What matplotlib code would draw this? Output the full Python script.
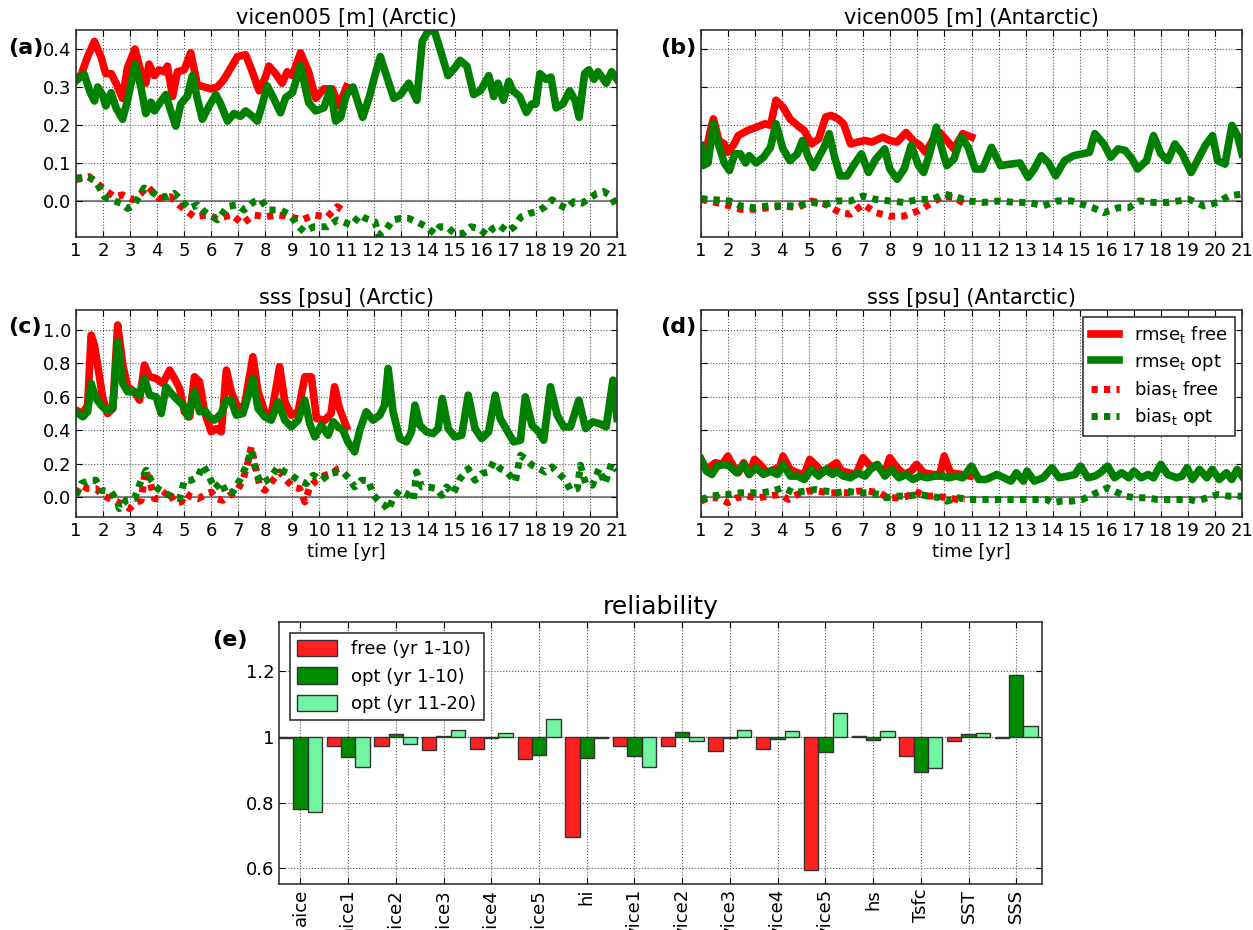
import numpy as np
import matplotlib
matplotlib.use("Agg")
import matplotlib.pyplot as plt

# ---------------------------------------------------------------------------
# time series: (year, value) pairs
# ---------------------------------------------------------------------------
# (a) vicen005 [m] Arctic
a_rmse_free = [(1.0, .325), (1.18, .33), (1.43, .38), (1.68, .42), (1.92, .38), (2.1, .335), (2.3, .335),
               (2.48, .31), (2.72, .27), (2.9, .35), (3.18, .40), (3.4, .34), (3.58, .31), (3.7, .36),
               (3.9, .33), (4.07, .345), (4.26, .34), (4.38, .355), (4.57, .275), (4.75, .34), (5.0, .345),
               (5.24, .39), (5.49, .305), (5.74, .30), (5.98, .295), (6.23, .30), (6.47, .32), (6.72, .35),
               (6.97, .38), (7.27, .385), (7.52, .34), (7.77, .29), (8.0, .325), (8.13, .355), (8.38, .335),
               (8.62, .31), (8.81, .34), (9.0, .33), (9.3, .39), (9.6, .34), (9.86, .27), (10.16, .295),
               (10.47, .295), (10.72, .25), (11.0, .30)]
a_rmse_opt = [(1.0, .316), (1.3, .334), (1.5, .29), (1.68, .263), (1.8, .30), (1.98, .28), (2.1, .25),
              (2.3, .285), (2.48, .245), (2.72, .215), (2.9, .263), (3.18, .36), (3.4, .30), (3.58, .23),
              (3.77, .26), (3.9, .237), (4.07, .255), (4.32, .28), (4.5, .237), (4.69, .197), (4.87, .255),
              (5.12, .276), (5.3, .33), (5.49, .268), (5.67, .215), (5.92, .25), (6.17, .28), (6.35, .255),
              (6.6, .21), (6.84, .23), (7.09, .223), (7.27, .237), (7.52, .223), (7.7, .21), (7.89, .255),
              (8.07, .303), (8.32, .268), (8.56, .232), (8.75, .272), (9.0, .285), (9.3, .356), (9.6, .259),
              (9.86, .237), (10.16, .245), (10.4, .294), (10.6, .21), (10.78, .22), (11.0, .28), (11.24, .30),
              (11.6, .22), (11.85, .275), (12.05, .33), (12.25, .38), (12.5, .325), (12.75, .27), (13.0, .28),
              (13.3, .31), (13.6, .265), (13.8, .42), (14.0, .445), (14.24, .45), (14.5, .39), (14.75, .33),
              (15.0, .35), (15.2, .37), (15.45, .355), (15.7, .28), (15.95, .29), (16.26, .33), (16.44, .275),
              (16.6, .31), (16.8, .265), (17.0, .315), (17.15, .29), (17.4, .275), (17.65, .233),
              (17.85, .255), (18.0, .255), (18.15, .335), (18.38, .32), (18.56, .326), (18.75, .245),
              (19.0, .255), (19.25, .29), (19.45, .265), (19.6, .22), (19.8, .335), (19.96, .345),
              (20.15, .32), (20.3, .34), (20.6, .31), (20.8, .34), (21.0, .32)]
a_bias_free = [(1.0, .056), (1.49, .064), (1.98, .034), (2.41, .011), (2.72, .016), (3.09, .003), (3.4, .02),
               (3.64, .038), (4.07, .007), (4.5, .011), (4.81, -.011), (5.37, -.042), (5.86, -.037),
               (6.23, -.046), (6.78, -.037), (7.15, -.06), (7.58, -.037), (8.01, -.042), (8.44, -.037),
               (8.93, -.042), (9.36, -.05), (9.79, -.037), (10.29, -.042), (10.66, -.015), (10.85, -.024)]
a_bias_opt = [(1.0, .06), (1.43, .064), (1.74, .051), (2.05, .011), (2.29, .003), (2.66, -.006), (2.91, -.02),
              (3.15, -.01), (3.52, .034), (3.77, .025), (4.07, .011), (4.38, .011), (4.63, .02), (4.87, .003),
              (5.18, -.02), (5.49, -.01), (5.74, -.028), (6.23, -.05), (6.6, -.015), (6.97, -.01),
              (7.21, -.024), (7.58, -.002), (7.83, .003), (8.13, -.024), (8.56, -.024), (8.93, -.037),
              (9.18, -.064), (9.43, -.081), (9.79, -.068), (10.29, -.068), (10.66, -.05), (10.86, -.055),
              (11.2, -.064), (11.5, -.037), (11.7, -.046), (12.05, -.055), (12.2, -.09), (12.5, -.073),
              (12.7, -.05), (13.0, -.046), (13.3, -.046), (13.6, -.055), (13.95, -.068), (14.25, -.086),
              (14.45, -.068), (14.7, -.068), (15.0, -.086), (15.3, -.086), (15.6, -.068), (15.9, -.073),
              (16.2, -.09), (16.4, -.073), (16.65, -.064), (16.95, -.081), (17.2, -.068), (17.45, -.042),
              (17.75, -.033), (18.05, -.028), (18.35, -.015), (18.6, .003), (18.85, -.01), (19.15, -.02),
              (19.4, -.002), (19.7, -.006), (20.0, .007), (20.25, .02), (20.5, .025), (20.75, .015),
              (21.0, -.015)]

# (b) vicen005 [m] Antarctic
b_rmse_free = [(1.0, .137), (1.13, .11), (1.33, .18), (1.46, .216), (1.66, .159), (1.86, .15), (1.99, .128),
               (2.19, .146), (2.38, .172), (2.71, .185), (3.04, .194), (3.37, .203), (3.57, .199), (3.77, .265),
               (4.03, .247), (4.29, .216), (4.56, .199), (4.82, .185), (5.08, .15), (5.35, .163), (5.61, .221),
               (5.81, .225), (6.07, .216), (6.27, .203), (6.53, .15), (6.8, .155), (7.06, .159), (7.32, .155),
               (7.72, .168), (7.98, .159), (8.25, .155), (8.58, .18), (8.84, .159), (9.1, .146), (9.3, .128),
               (9.56, .159), (9.83, .18), (10.09, .159), (10.35, .137), (10.68, .177), (11.0, .168)]
b_rmse_opt = [(1.0, .146), (1.07, .093), (1.26, .10), (1.46, .203), (1.66, .146), (1.86, .10), (2.05, .08),
              (2.25, .124), (2.45, .124), (2.65, .10), (2.78, .119), (3.04, .10), (3.31, .115), (3.57, .141),
              (3.77, .203), (4.03, .137), (4.29, .106), (4.56, .124), (4.75, .159), (4.95, .119), (5.15, .088),
              (5.35, .115), (5.55, .141), (5.74, .177), (5.94, .115), (6.14, .066), (6.4, .066), (6.67, .097),
              (6.93, .124), (7.19, .075), (7.46, .11), (7.79, .137), (7.98, .084), (8.25, .057), (8.51, .084),
              (8.77, .146), (9.04, .093), (9.23, .075), (9.43, .119), (9.7, .194), (9.89, .141), (10.09, .093),
              (10.35, .11), (10.62, .168), (10.88, .141), (11.14, .084), (11.41, .084), (11.74, .141),
              (12.07, .093), (12.46, .097), (12.79, .10), (13.09, .062), (13.32, .084), (13.58, .119),
              (13.85, .10), (14.11, .066), (14.44, .106), (14.77, .119), (15.1, .124), (15.36, .128),
              (15.56, .177), (15.89, .15), (16.15, .115), (16.42, .137), (16.68, .133), (16.94, .11),
              (17.14, .084), (17.47, .106), (17.73, .172), (18.0, .124), (18.26, .106), (18.52, .15),
              (18.79, .124), (19.12, .075), (19.38, .11), (19.64, .146), (19.91, .172), (20.1, .106),
              (20.37, .097), (20.63, .199), (20.83, .172), (21.0, .124)]
b_bias_free = [(1.0, .004), (1.53, -.004), (2.05, -.013), (2.45, -.022), (2.98, -.022), (3.5, -.018),
               (4.03, -.013), (4.56, -.018), (5.08, 0.0), (5.61, -.009), (6.14, -.031), (6.53, -.035),
               (6.99, -.009), (7.46, -.031), (7.98, -.04), (8.51, -.04), (9.04, -.026), (9.56, -.004),
               (9.96, .013), (10.35, .009), (10.88, -.013)]
b_bias_opt = [(1.0, .006), (1.53, .003), (2.05, 0.0), (2.45, -.013), (2.98, -.018), (3.5, -.013), (4.03, -.013),
              (4.56, -.013), (5.08, -.004), (5.61, -.009), (6.01, 0.0), (6.53, 0.0), (6.99, .013), (7.46, .004),
              (7.98, 0.0), (8.51, -.004), (9.04, .004), (9.56, .004), (9.96, .018), (10.35, .013), (10.88, 0.0),
              (11.41, -.004), (12.07, 0.0), (12.59, -.004), (13.12, -.004), (13.65, -.013), (14.18, 0.0),
              (14.7, 0.0), (15.1, -.009), (15.49, -.018), (15.89, -.031), (16.42, -.018), (16.81, -.018),
              (17.21, 0.0), (17.73, -.004), (18.26, -.004), (18.65, 0.0), (19.05, .004), (19.58, -.013),
              (20.1, -.004), (20.5, .013), (21.0, .018)]

# (c) sss [psu] Arctic
c_rmse_free = [(1.0, .52), (1.25, .50), (1.43, .55), (1.56, .97), (1.68, .91), (1.8, .79), (1.99, .59),
               (2.17, .50), (2.36, .53), (2.54, 1.03), (2.73, .79), (2.91, .66), (3.16, .63), (3.35, .58),
               (3.53, .79), (3.72, .72), (3.96, .71), (4.21, .68), (4.46, .76), (4.64, .71), (4.83, .65),
               (5.01, .51), (5.2, .48), (5.38, .72), (5.57, .69), (5.75, .51), (6.0, .39), (6.19, .41),
               (6.37, .39), (6.56, .76), (6.74, .63), (6.99, .53), (7.23, .55), (7.54, .84), (7.73, .63),
               (7.98, .51), (8.22, .49), (8.53, .78), (8.72, .57), (8.96, .49), (9.21, .51), (9.46, .72),
               (9.7, .72), (9.89, .47), (10.2, .46), (10.43, .50), (10.56, .66), (10.74, .53), (11.0, .42)]
c_rmse_opt = [(1.0, .51), (1.25, .48), (1.43, .51), (1.56, .68), (1.74, .59), (1.93, .55), (2.11, .52),
              (2.36, .53), (2.54, .93), (2.73, .68), (2.91, .63), (3.16, .63), (3.35, .61), (3.53, .71),
              (3.72, .61), (3.96, .60), (4.15, .50), (4.33, .66), (4.52, .62), (4.7, .59), (4.95, .55),
              (5.14, .48), (5.38, .63), (5.57, .51), (5.75, .52), (5.94, .48), (6.12, .46), (6.37, .50),
              (6.56, .58), (6.74, .58), (6.93, .49), (7.17, .50), (7.42, .64), (7.54, .71), (7.73, .53),
              (7.98, .48), (8.22, .46), (8.47, .57), (8.72, .46), (8.96, .42), (9.21, .46), (9.46, .58),
              (9.64, .44), (9.83, .36), (10.07, .43), (10.32, .37), (10.51, .45), (10.69, .42), (10.87, .40),
              (11.05, .33), (11.3, .27), (11.49, .40), (11.73, .51), (11.98, .46), (12.23, .49), (12.41, .55),
              (12.54, .77), (12.72, .51), (12.97, .35), (13.22, .33), (13.4, .39), (13.53, .55), (13.71, .43),
              (13.96, .39), (14.2, .38), (14.39, .41), (14.54, .59), (14.76, .41), (15.0, .36), (15.26, .37),
              (15.5, .61), (15.75, .41), (16.0, .35), (16.25, .39), (16.5, .61), (16.68, .47), (16.93, .40),
              (17.18, .33), (17.43, .34), (17.61, .60), (17.86, .43), (18.1, .39), (18.29, .34), (18.54, .66),
              (18.79, .49), (19.03, .42), (19.28, .42), (19.59, .58), (19.84, .41), (20.09, .45), (20.34, .44),
              (20.6, .42), (20.85, .70), (21.0, .47)]
c_bias_free = [(1.0, .02), (1.19, .07), (1.43, .05), (1.74, .05), (1.99, .01), (2.23, -.01), (2.54, -.03),
               (2.79, -.05), (2.98, -.07), (3.16, -.04), (3.41, -.02), (3.56, .16), (3.72, .10), (3.9, -.01),
               (4.15, -.01), (4.4, .04), (4.64, -.03), (4.89, -.03), (5.07, .02), (5.26, 0.0), (5.51, -.01),
               (5.75, .01), (6.0, .03), (6.19, -.01), (6.43, -.02), (6.68, .01), (6.93, .03), (7.17, .10),
               (7.36, .21), (7.48, .30), (7.6, .21), (7.79, .07), (7.98, .04), (8.28, .10), (8.53, .15),
               (8.78, .10), (9.02, .06), (9.27, .05), (9.46, -.03), (9.64, .06), (9.89, .10), (10.2, .13),
               (10.44, .14), (10.69, .17), (10.9, .18)]
c_bias_opt = [(1.0, .01), (1.19, .08), (1.49, .10), (1.74, .10), (1.93, .04), (2.3, .03), (2.54, -.03),
              (2.6, -.07), (2.85, -.02), (3.16, -.01), (3.41, .10), (3.59, .16), (3.78, .10), (4.02, .05),
              (4.33, .02), (4.58, 0.0), (4.83, -.01), (5.01, .10), (5.26, .10), (5.51, .12), (5.69, .19),
              (5.88, .14), (6.12, .05), (6.37, .09), (6.56, .02), (6.8, .03), (7.05, .10), (7.3, .19),
              (7.48, .28), (7.67, .14), (7.85, .08), (8.16, .11), (8.47, .18), (8.72, .15), (8.96, .13),
              (9.21, .10), (9.52, .08), (9.77, .13), (10.07, .10), (10.38, .14), (10.69, .15), (10.87, .15),
              (11.1, .11), (11.3, .06), (11.55, .10), (11.8, .10), (12.0, .01), (12.23, -.03), (12.41, -.05),
              (12.54, -.08), (12.72, -.01), (12.97, .04), (13.22, .02), (13.47, -.02), (13.59, .15),
              (13.78, .06), (14.02, .06), (14.33, .05), (14.52, .01), (14.7, .06), (14.95, .02), (15.2, .11),
              (15.5, .17), (15.75, .10), (16.0, .14), (16.25, .15), (16.44, .21), (16.68, .17), (16.93, .15),
              (17.24, .09), (17.43, .25), (17.61, .23), (17.86, .19), (18.1, .17), (18.35, .15), (18.6, .18),
              (18.85, .14), (19.1, .10), (19.28, .04), (19.53, .05), (19.65, .19), (19.84, .08), (20.09, .07),
              (20.34, .17), (20.55, .08), (20.8, .20), (21.0, .16)]

# (d) sss [psu] Antarctic
d_rmse_free = [(1.0, .225), (1.2, .165), (1.53, .205), (1.79, .195), (1.99, .245), (2.19, .185), (2.38, .145),
               (2.58, .205), (2.78, .135), (2.98, .225), (3.24, .185), (3.44, .145), (3.7, .165), (3.9, .175),
               (4.03, .245), (4.29, .165), (4.56, .145), (4.82, .135), (5.02, .225), (5.28, .185), (5.48, .145),
               (5.74, .175), (6.01, .205), (6.2, .155), (6.47, .145), (6.73, .135), (6.99, .235), (7.26, .185),
               (7.52, .185), (7.79, .145), (7.98, .235), (8.25, .175), (8.51, .135), (8.77, .155), (8.97, .195),
               (9.23, .145), (9.56, .135), (9.83, .135), (9.99, .245), (10.22, .145), (10.62, .135),
               (10.95, .125)]
d_rmse_opt = [(1.0, .225), (1.2, .155), (1.4, .135), (1.6, .185), (1.86, .195), (2.05, .185), (2.32, .145),
              (2.58, .195), (2.78, .135), (3.04, .175), (3.3, .135), (3.57, .155), (3.83, .135), (4.03, .195),
              (4.3, .125), (4.56, .125), (4.82, .105), (5.08, .165), (5.35, .125), (5.6, .165), (5.87, .135),
              (6.0, .155), (6.27, .125), (6.53, .115), (6.8, .145), (7.06, .125), (7.26, .165), (7.52, .195),
              (7.8, .125), (8.05, .165), (8.32, .115), (8.58, .135), (8.84, .105), (9.1, .125), (9.37, .115),
              (9.63, .125), (9.9, .125), (10.16, .115), (10.42, .125), (10.68, .115), (11.0, .185),
              (11.27, .105), (11.54, .105), (11.94, .135), (12.2, .115), (12.46, .095), (12.66, .145),
              (12.92, .095), (13.05, .155), (13.32, .095), (13.65, .115), (13.98, .175), (14.24, .115),
              (14.57, .125), (14.83, .135), (15.03, .185), (15.3, .115), (15.56, .125), (15.76, .145),
              (16.03, .185), (16.29, .115), (16.55, .145), (16.82, .115), (17.0, .155), (17.27, .115),
              (17.53, .135), (17.73, .115), (18.0, .195), (18.25, .135), (18.58, .115), (18.78, .125),
              (18.97, .175), (19.17, .105), (19.43, .165), (19.7, .115), (19.9, .165), (20.16, .105),
              (20.42, .145), (20.62, .105), (20.82, .165), (21.0, .125)]
d_bias_free = [(1.0, -.025), (1.26, -.005), (1.66, -.005), (1.99, -.035), (2.32, -.005), (2.71, .005),
               (3.11, -.005), (3.5, .005), (3.9, .015), (4.23, -.015), (4.56, .015), (4.95, .035), (5.35, .035),
               (5.68, .025), (6.01, .025), (6.4, .025), (6.8, .035), (7.19, .035), (7.59, .025), (7.92, -.005),
               (8.31, -.005), (8.64, .005), (8.91, .035), (9.3, .005), (9.7, .005), (10.09, -.005),
               (10.49, -.015), (10.75, -.015)]
d_bias_opt = [(1.0, -.015), (1.4, .005), (1.79, .015), (2.05, .015), (2.45, .025), (2.84, .025), (3.24, .025),
              (3.64, .035), (4.03, .055), (4.43, .025), (4.82, .035), (5.22, .045), (5.61, .035), (6.01, .025),
              (6.4, .035), (6.8, .025), (7.19, .025), (7.59, .015), (7.85, -.005), (8.25, .005), (8.64, .005),
              (9.04, .015), (9.43, .005), (9.83, -.005), (10.09, -.025), (10.49, -.005), (10.88, -.015),
              (11.28, -.015), (11.8, -.015), (12.2, -.015), (12.59, -.015), (12.99, -.015), (13.38, -.015),
              (13.78, -.015), (13.98, -.035), (14.31, -.025), (14.7, -.025), (15.1, -.015), (15.49, .015),
              (15.76, .035), (16.02, .055), (16.28, .035), (16.68, .005), (17.07, -.005), (17.47, -.005),
              (17.86, -.015), (18.26, -.015), (18.65, -.015), (19.05, -.015), (19.31, -.025), (19.71, -.005),
              (20.1, .015), (20.5, .005), (21.0, .005)]

# (e) reliability
variables = ["aice", "aice1", "aice2", "aice3", "aice4", "aice5", "hi",
             "vice1", "vice2", "vice3", "vice4", "vice5", "hs", "Tsfc", "SST", "SSS"]
rel_free = [0.998, 0.972, 0.972, 0.959, 0.964, 0.934, 0.695, 0.972, 0.972, 0.957, 0.964, 0.594,
            1.003, 0.941, 0.988, 0.998]
rel_opt = [0.779, 0.939, 1.009, 1.003, 0.998, 0.946, 0.936, 0.941, 1.015, 0.998, 0.995, 0.954,
           0.991, 0.894, 1.009, 1.188]
rel_opt2 = [0.772, 0.907, 0.979, 1.020, 1.011, 1.056, 0.998, 0.909, 0.988, 1.020, 1.018, 1.073,
            1.018, 0.904, 1.011, 1.032]

# ---------------------------------------------------------------------------
plt.rcParams['font.family'] = 'DejaVu Sans'
plt.rcParams['mathtext.default'] = 'regular'

W, H = 1253, 930
fig = plt.figure(figsize=(W / 100, H / 100), dpi=100)


def box(l, t, r, b):
    return [l / W, 1 - b / H, (r - l) / W, (b - t) / H]


def style(ax):
    ax.grid(True, linestyle=':', color='#555555', linewidth=0.8)
    ax.tick_params(direction='in', top=True, right=True, labelsize=13, length=4)
    for s in ax.spines.values():
        s.set_color('#333333')
        s.set_linewidth(1.2)


def series(ax, pairs, color, dotted=False):
    t, v = zip(*pairs)
    if dotted:
        ax.plot(t, v, color=color, lw=5, linestyle=(0, (0.9, 0.9)), solid_capstyle='butt')
    else:
        ax.plot(t, v, color=color, lw=5.5, solid_joinstyle='round')


panels = [
    ('(a)', 'vicen005 [m] (Arctic)', box(76, 30, 617, 237), a_rmse_free, a_rmse_opt, a_bias_free, a_bias_opt),
    ('(b)', 'vicen005 [m] (Antarctic)', box(701, 30, 1242, 237), b_rmse_free, b_rmse_opt, b_bias_free, b_bias_opt),
    ('(c)', 'sss [psu] (Arctic)', box(76, 310, 617, 517), c_rmse_free, c_rmse_opt, c_bias_free, c_bias_opt),
    ('(d)', 'sss [psu] (Antarctic)', box(701, 310, 1242, 517), d_rmse_free, d_rmse_opt, d_bias_free, d_bias_opt),
]

axes = []
for i, (lab, title, pos, rf, ro, bf, bo) in enumerate(panels):
    ax = fig.add_axes(pos)
    style(ax)
    ax.axhline(0, color='#888888', lw=1.5, zorder=1)
    series(ax, rf, 'r')
    series(ax, ro, 'g')
    series(ax, bf, 'r', dotted=True)
    series(ax, bo, 'g', dotted=True)
    ax.set_xlim(1, 21)
    ax.set_xticks(range(1, 22))
    if i < 2:
        ax.set_ylim(-0.095, 0.45)
        ax.set_yticks([0.0, 0.1, 0.2, 0.3, 0.4])
    else:
        ax.set_ylim(-0.12, 1.12)
        ax.set_yticks([0.0, 0.2, 0.4, 0.6, 0.8, 1.0])
        ax.set_xlabel('time [yr]', fontsize=13, labelpad=2)
    ax.yaxis.set_major_formatter(matplotlib.ticker.FormatStrFormatter('%.1f'))
    if i % 2 == 1:
        ax.tick_params(labelleft=False)
    ax.set_title(title, fontsize=15, pad=4)
    axes.append(ax)

fig.text(8 / W, 1 - 48 / H, '(a)', fontsize=16, fontweight='bold', va='center')
fig.text(660 / W, 1 - 48 / H, '(b)', fontsize=16, fontweight='bold', va='center')
fig.text(8 / W, 1 - 327 / H, '(c)', fontsize=16, fontweight='bold', va='center')
fig.text(660 / W, 1 - 327 / H, '(d)', fontsize=16, fontweight='bold', va='center')
fig.text(212 / W, 1 - 640 / H, '(e)', fontsize=16, fontweight='bold', va='center')

# legend in (d)
from matplotlib.lines import Line2D
handles = [Line2D([], [], color='r', lw=5.5), Line2D([], [], color='g', lw=5.5),
           Line2D([], [], color='r', lw=5, linestyle=(0, (0.9, 0.9))),
           Line2D([], [], color='g', lw=5, linestyle=(0, (0.9, 0.9)))]
leg = axes[3].legend(handles, [r'rmse$_{\rm t}$ free', r'rmse$_{\rm t}$ opt',
                               r'bias$_{\rm t}$ free', r'bias$_{\rm t}$ opt'],
                     loc='upper right', fontsize=13, fancybox=False, framealpha=1,
                     edgecolor='#333333', handlelength=1.6, borderaxespad=0.4, labelspacing=0.35)
leg.get_frame().set_linewidth(1.2)

# (e) reliability bars
axe = fig.add_axes(box(279, 622, 1042, 884))
style(axe)
x = np.arange(len(variables))
bw = 0.3
rf = np.array(rel_free)
ro = np.array(rel_opt)
ro2 = np.array(rel_opt2)
axe.bar(x - bw, rf - 1, bw, bottom=1, color='#ff2020', edgecolor='#333333', lw=1, label='free (yr 1-10)', zorder=3)
axe.bar(x, ro - 1, bw, bottom=1, color='#008c00', edgecolor='#333333', lw=1, label='opt (yr 1-10)', zorder=3)
axe.bar(x + bw, ro2 - 1, bw, bottom=1, color='#72f5a0', edgecolor='#333333', lw=1, label='opt (yr 11-20)', zorder=3)
axe.set_xticks(x)
axe.set_xticklabels(variables, rotation=90, fontsize=13)
axe.set_xlim(-0.45, 15.54)
axe.set_ylim(0.552, 1.35)
axe.set_yticks([0.6, 0.8, 1.0, 1.2])
axe.set_yticklabels(['0.6', '0.8', '1', '1.2'])
axe.set_title('reliability', fontsize=18, pad=6)
leg2 = axe.legend(loc='upper left', fontsize=13, fancybox=False, framealpha=1, edgecolor='#333333',
                  handlelength=2.2, handleheight=1.0, borderaxespad=0.6)
leg2.get_frame().set_linewidth(1.2)

fig.savefig('out.png', dpi=100)
